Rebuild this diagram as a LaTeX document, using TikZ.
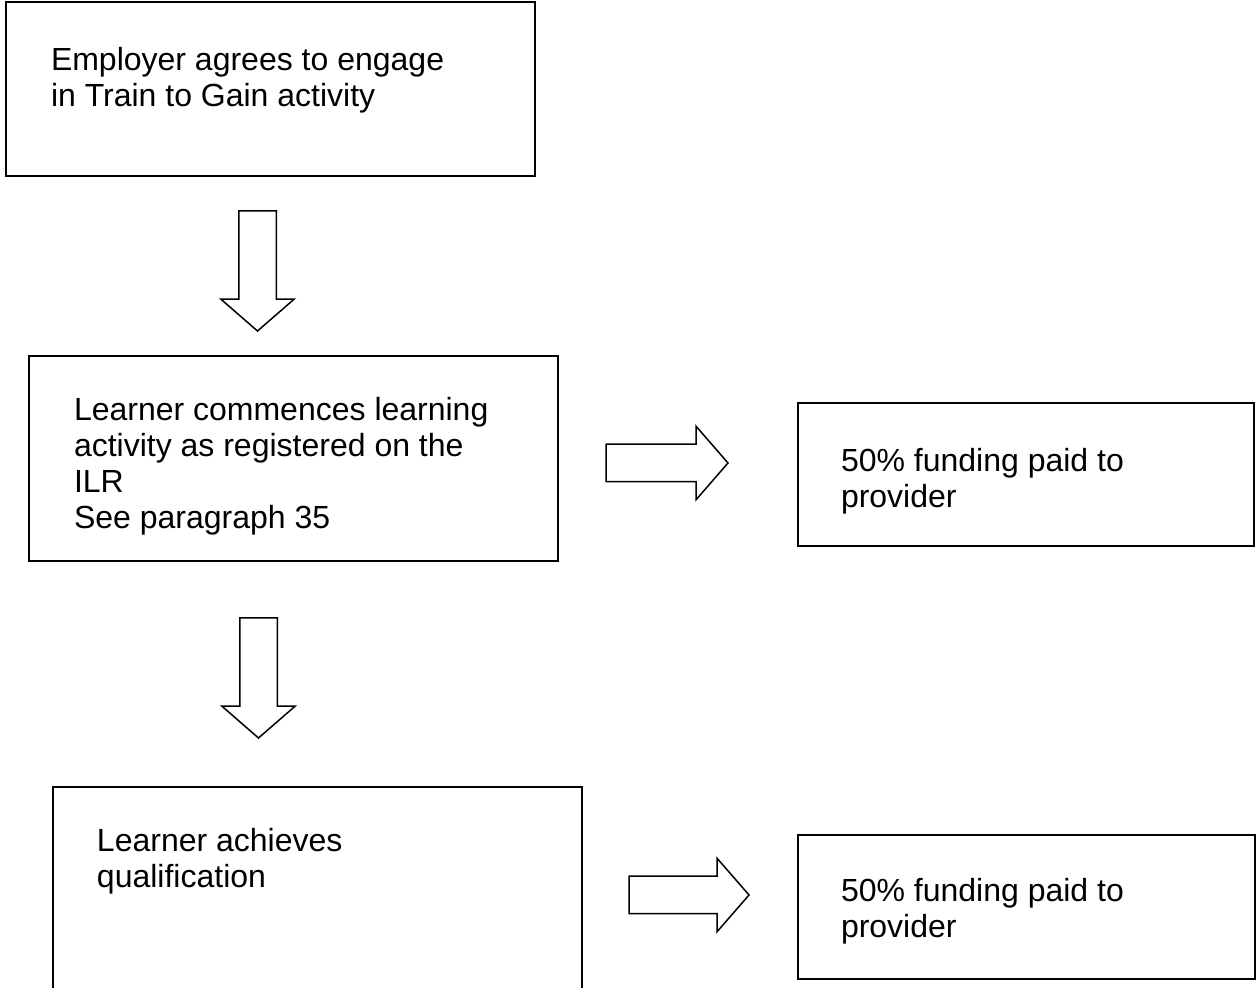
\documentclass[tikz,border=0pt]{standalone}
\usepackage{fontspec}
\setmainfont{Liberation Sans}
\usetikzlibrary{shapes.arrows,positioning}

\begin{document}
\begin{tikzpicture}[x=0.5pt,y=-0.5pt,
  every node/.style={inner sep=0pt, outer sep=0pt},
  stage/.style={draw, line width=1pt, anchor=north west, minimum width=264.5pt},
  payment/.style={draw, line width=1pt, anchor=north west, minimum width=228pt},
  stagetext/.style={anchor=north west, align=left,
    font=\fontsize{16}{18}\selectfont},
  blockarrow/.style={draw, line width=0.75pt, single arrow, anchor=tail,
    inner xsep=0pt, inner ysep=9pt,
    single arrow head extend=9pt, single arrow tip angle=98,
    minimum height=60pt},
  downarrow/.style={blockarrow, shape border rotate=270,
    inner xsep=9pt, inner ysep=0pt}]
  \useasboundingbox (0,0) rectangle (1260,988);
  \clip (0,0) rectangle (1260,988);

  \node[stage, minimum height=87pt] (employer) at (6,2) {};
  \node[stagetext, below right=22.5pt and 22.5pt of employer.north west] (employertext)
    {Employer agrees to engage\\in Train to Gain activity};

  \node[downarrow] (down1) at (257.5,211) {};

  \node[stage, minimum height=102.5pt] (commence) at (29,356) {};
  \node[stagetext, below right=20.5pt and 22.5pt of commence.north west] (commencetext)
    {Learner commences learning\\activity as registered on the\\ILR\\See paragraph 35};

  \node[blockarrow, minimum height=61pt] (right1) at (606,463) {};

  \node[payment, minimum height=71.5pt] (fund1) at (798,403) {};
  \node[stagetext, below right=22.5pt and 21.5pt of fund1.north west] (fund1text)
    {50\% funding paid to\\provider};

  \node[downarrow] (down2) at (258.5,618) {};

  \node[stage, minimum height=115pt] (achieve) at (53,787) {};
  \node[stagetext, below right=20.5pt and 22pt of achieve.north west] (achievetext)
    {Learner achieves\\qualification};

  \node[blockarrow] (right2) at (629,895) {};

  \node[payment, minimum height=72pt, minimum width=228.5pt] (fund2) at (798,835) {};
  \node[stagetext, below right=21.5pt and 21.5pt of fund2.north west] (fund2text)
    {50\% funding paid to\\provider};
\end{tikzpicture}
\end{document}
